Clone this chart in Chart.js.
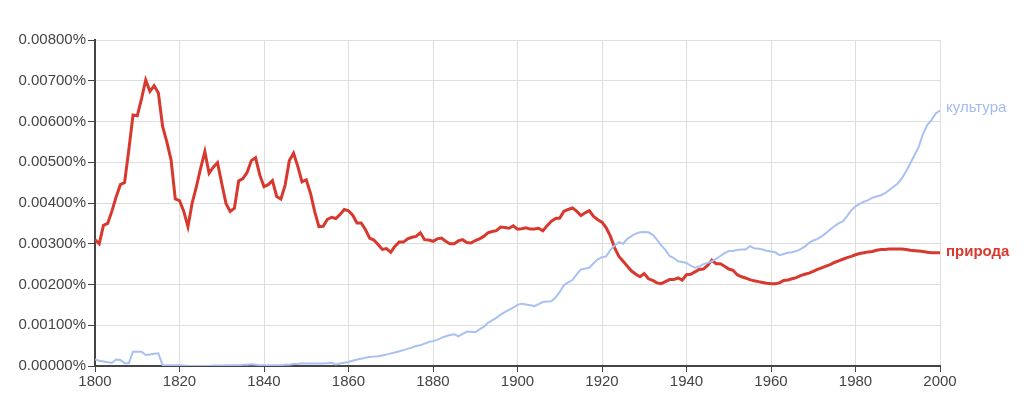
<!DOCTYPE html>
<html>
<head>
<meta charset="utf-8">
<script src="https://cdn.jsdelivr.net/npm/chart.js@4"></script>
<style>
  html, body { margin: 0; padding: 0; background: #fff; }
  #wrap { width: 1024px; height: 400px; }
</style>
</head>
<body>
<div id="wrap"><canvas id="ngram" width="1024" height="400"></canvas></div>
<script>
/* ─── Data (values in units of 0.001%) ─── */
const years = Array.from({ length: 201 }, (_, i) => 1800 + i);

const priroda = [
  3.10, 3.00, 3.45, 3.50, 3.80, 4.15, 4.45, 4.50, 5.30, 6.16,
  6.14, 6.55, 7.02, 6.74, 6.88, 6.70, 5.88, 5.50, 5.06, 4.10,
  4.06, 3.80, 3.42, 4.00, 4.40, 4.85, 5.26, 4.73, 4.88, 4.99,
  4.48, 3.99, 3.79, 3.87, 4.54, 4.60, 4.75, 5.04, 5.11, 4.69,
  4.40, 4.45, 4.55, 4.16, 4.10, 4.44, 5.04, 5.22, 4.90, 4.52,
  4.57, 4.24, 3.79, 3.42, 3.43, 3.60, 3.65, 3.62, 3.72, 3.84,
  3.81, 3.70, 3.51, 3.51, 3.35, 3.14, 3.09, 2.98, 2.86, 2.88,
  2.79, 2.94, 3.04, 3.04, 3.12, 3.16, 3.18, 3.27, 3.10, 3.09,
  3.06, 3.12, 3.14, 3.06, 3.00, 3.00, 3.07, 3.10, 3.03, 3.02,
  3.08, 3.12, 3.18, 3.27, 3.30, 3.32, 3.41, 3.40, 3.38, 3.44,
  3.36, 3.37, 3.39, 3.36, 3.36, 3.38, 3.32, 3.44, 3.55, 3.62,
  3.63, 3.80, 3.84, 3.88, 3.80, 3.69, 3.76, 3.81, 3.67, 3.59,
  3.53, 3.39, 3.18, 2.90, 2.69, 2.57, 2.45, 2.33, 2.25, 2.19,
  2.27, 2.14, 2.10, 2.04, 2.02, 2.07, 2.12, 2.12, 2.16, 2.11,
  2.24, 2.25, 2.31, 2.37, 2.38, 2.47, 2.60, 2.51, 2.51, 2.45,
  2.38, 2.35, 2.24, 2.19, 2.16, 2.12, 2.09, 2.07, 2.05, 2.03,
  2.02, 2.02, 2.04, 2.10, 2.11, 2.14, 2.17, 2.22, 2.25, 2.28,
  2.32, 2.37, 2.41, 2.45, 2.49, 2.54, 2.58, 2.62, 2.66, 2.69,
  2.73, 2.76, 2.78, 2.80, 2.81, 2.84, 2.86, 2.86, 2.87, 2.87,
  2.87, 2.87, 2.86, 2.84, 2.83, 2.82, 2.81, 2.79, 2.78, 2.78,
  2.78
];

const kultura = [
  0.16, 0.13, 0.11, 0.09, 0.08, 0.16, 0.15, 0.07, 0.07, 0.35,
  0.35, 0.35, 0.27, 0.28, 0.30, 0.31, 0.02, 0.02, 0.02, 0.02,
  0.02, 0.01, 0.00, 0.00, 0.00, 0.00, 0.00, 0.00, 0.01, 0.01,
  0.01, 0.02, 0.02, 0.02, 0.02, 0.03, 0.03, 0.04, 0.03, 0.02,
  0.02, 0.02, 0.02, 0.02, 0.02, 0.03, 0.03, 0.05, 0.05, 0.07,
  0.06, 0.06, 0.06, 0.06, 0.06, 0.07, 0.08, 0.04, 0.06, 0.08,
  0.10, 0.13, 0.16, 0.18, 0.20, 0.22, 0.23, 0.24, 0.26, 0.28,
  0.31, 0.33, 0.36, 0.39, 0.42, 0.45, 0.49, 0.51, 0.55, 0.59,
  0.61, 0.64, 0.69, 0.73, 0.76, 0.78, 0.73, 0.79, 0.84, 0.84,
  0.83, 0.90, 0.96, 1.06, 1.12, 1.18, 1.26, 1.32, 1.38, 1.43,
  1.50, 1.53, 1.51, 1.49, 1.47, 1.52, 1.57, 1.58, 1.59, 1.68,
  1.82, 1.98, 2.05, 2.11, 2.25, 2.37, 2.39, 2.41, 2.52, 2.62,
  2.67, 2.69, 2.85, 2.96, 3.04, 3.00, 3.12, 3.19, 3.25, 3.28,
  3.29, 3.28, 3.22, 3.10, 2.96, 2.85, 2.70, 2.65, 2.57, 2.55,
  2.53, 2.46, 2.41, 2.44, 2.50, 2.53, 2.57, 2.63, 2.70, 2.77,
  2.82, 2.82, 2.85, 2.86, 2.86, 2.94, 2.89, 2.88, 2.86, 2.83,
  2.81, 2.79, 2.72, 2.75, 2.78, 2.79, 2.82, 2.87, 2.93, 3.02,
  3.08, 3.12, 3.18, 3.26, 3.35, 3.43, 3.50, 3.55, 3.68, 3.82,
  3.92, 3.98, 4.03, 4.07, 4.13, 4.16, 4.19, 4.24, 4.32, 4.40,
  4.48, 4.61, 4.78, 4.98, 5.18, 5.39, 5.70, 5.92, 6.04, 6.20,
  6.27
];

const seriesNames = ["природа", "культура"];
const yTicks      = [0, 1, 2, 3, 4, 5, 6, 7, 8];
const yTickLabels = ["0.00000%", "0.00100%", "0.00200%", "0.00300%", "0.00400%",
                     "0.00500%", "0.00600%", "0.00700%", "0.00800%"];
const xTicks      = [1800, 1820, 1840, 1860, 1880, 1900, 1920, 1940, 1960, 1980, 2000];

const RED  = "#d8392e";
const BLUE = "#a9c1f2";
const FONT = "'Liberation Sans', Arial, sans-serif";

/* ─── End-of-line labels ─── */
const endLabels = {
  id: "endLabels",
  afterDatasetsDraw(chart) {
    const ctx = chart.ctx;
    ctx.save();
    ctx.textBaseline = "middle";
    ctx.textAlign = "left";
    chart.data.datasets.forEach((ds, i) => {
      const pts = chart.getDatasetMeta(i).data;
      const last = pts[pts.length - 1];
      ctx.fillStyle = ds.labelColor;
      ctx.font = (ds.labelBold ? "bold " : "") + "15px " + FONT;
      ctx.fillText(ds.label, last.x + 6, last.y + ds.labelShift);
    });
    ctx.restore();
  }
};

const toPoints = vals => vals.map((v, i) => ({ x: years[i], y: v }));

new Chart(document.getElementById("ngram"), {
  type: "line",
  data: {
    datasets: [
      {
        label: seriesNames[1],
        data: toPoints(kultura),
        borderColor: BLUE, borderWidth: 2,
        labelColor: "#a3bcef", labelBold: false, labelShift: -3,
        pointRadius: 0, tension: 0,
      },
      {
        label: seriesNames[0],
        data: toPoints(priroda),
        borderColor: RED, borderWidth: 3,
        labelColor: RED, labelBold: true, labelShift: -1,
        pointRadius: 0, tension: 0,
      },
    ],
  },
  options: {
    responsive: false, animation: false,
    layout: { padding: { left: 0, right: 84, top: 40, bottom: 0 } },
    plugins: { legend: { display: false }, tooltip: { enabled: false } },
    scales: {
      x: {
        type: "linear", min: 1800, max: 2000,
        afterBuildTicks: s => { s.ticks = xTicks.map(v => ({ value: v })); },
        afterFit: s => { s.height = 34; },
        grid: { color: "#dddddd", lineWidth: 1, tickColor: "#444", tickLength: 6 },
        border: { color: "#444", width: 2 },
        ticks: {
          color: "#444", padding: 1, maxRotation: 0,
          font: { size: 15, family: FONT },
          callback: v => String(v),
        },
      },
      y: {
        min: 0, max: 8,
        afterBuildTicks: s => { s.ticks = yTicks.map(v => ({ value: v })); },
        afterFit: s => { s.width = 95; },
        grid: { color: "#dddddd", lineWidth: 1, tickColor: "#444", tickLength: 7 },
        border: { color: "#444", width: 2 },
        ticks: {
          color: "#444", padding: 2,
          font: { size: 15, family: FONT },
          callback: v => yTickLabels[yTicks.indexOf(v)],
        },
      },
    },
  },
  plugins: [endLabels],
});
</script>
</body>
</html>
